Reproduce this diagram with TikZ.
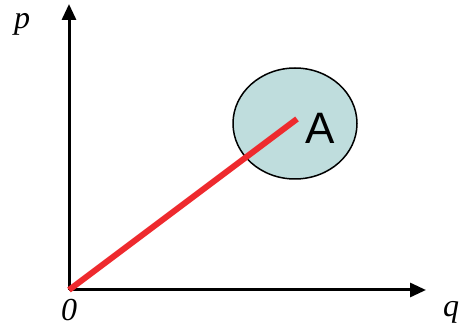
\documentclass[tikz,border=0pt]{standalone}
\usepackage{fontspec}
\setmainfont{Liberation Serif}
\setsansfont{Liberation Sans}
\usepackage{xcolor}
\definecolor{qteal}{HTML}{BFDDDD}
\definecolor{qred}{HTML}{EE2A2E}
\usetikzlibrary{shapes.geometric,arrows.meta,positioning}

\begin{document}
\begin{tikzpicture}[
  x=1pt,y=1pt,
  axis/.style={draw=black,line width=3pt,-{Triangle[length=16pt,width=14pt]}},
  region/.style={ellipse,draw=black,line width=1.5pt,fill=qteal,minimum width=124pt,minimum height=111pt,inner sep=0pt},
  ray/.style={draw=qred,line width=6pt},
  lbl/.style={font=\itshape\fontsize{32}{32}\selectfont,inner sep=0pt}
]
\useasboundingbox (0,0) rectangle (461,329);
\coordinate (origin) at (69,39);
\coordinate (pend) at (69,325);
\coordinate (qend) at (426,39);
\node[region] (area) at (295,205.5) {};
\coordinate (tip) at (297,210);
\node[font=\sffamily\fontsize{44}{44}\selectfont,inner sep=0pt] (lblA) at (320,201) {A};
\draw[axis] (origin) -- (pend);
\draw[axis] (origin) -- (qend);
\draw[ray] (origin) -- (tip);
\node[lbl] (lblp) at (22,305) {p};
\node[lbl,below=9pt of origin] (lbl0) {0};
\node[lbl,anchor=base] (lblq) at (451,12) {q};
\end{tikzpicture}
\end{document}
